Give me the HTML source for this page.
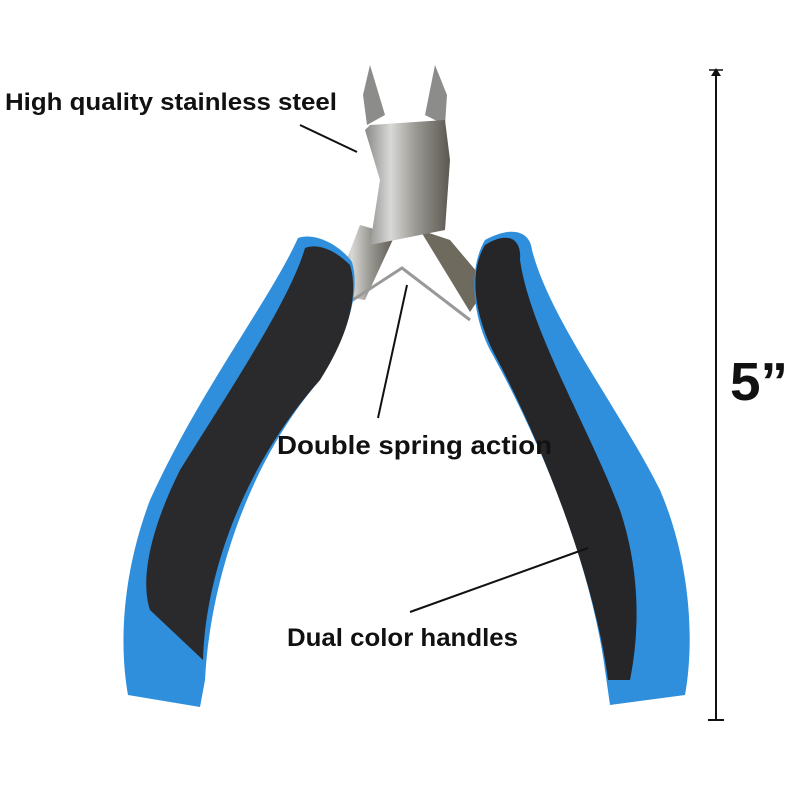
<!DOCTYPE html>
<html><head><style>
html,body{margin:0;padding:0;background:#fff;width:800px;height:800px;overflow:hidden}
svg{display:block}
text{font-family:"Liberation Sans",sans-serif;font-weight:bold;fill:#111}
</style></head><body>
<svg width="800" height="800" viewBox="0 0 800 800">
<defs>
<linearGradient id="m" x1="0" x2="1" y1="0" y2="0">
<stop offset="0" stop-color="#8a8a88"/><stop offset="0.3" stop-color="#d8d8d6"/><stop offset="0.6" stop-color="#9a9892"/><stop offset="1" stop-color="#5a5850"/>
</linearGradient>
</defs>
<!-- metal arms -->
<path d="M360 225 L395 235 L365 300 L333 295 Z" fill="url(#m)"/>
<path d="M420 230 L450 240 L488 285 L470 312 Z" fill="#6e6a5e"/>
<!-- springs -->
<path d="M345 305 L402 268 L470 320" fill="none" stroke="#999" stroke-width="3"/>
<!-- head -->
<path d="M370 65 L385 115 L367 125 L363 95 Z" fill="#8c8c8a"/>
<path d="M435 65 L447 95 L445 125 L425 115 Z" fill="#8c8c8a"/>
<path d="M370 125 L365 130 L380 180 L370 245 L395 240 L445 230 L450 160 L445 120 Z" fill="url(#m)"/>
<!-- left handle -->
<path d="M298 238 C270 300 200 390 150 500 C120 580 120 650 128 695 L200 707 L205 680 C210 580 250 460 320 380 C350 330 360 290 352 262 C340 245 315 232 298 238 Z" fill="#2f8fdc"/>
<path d="M305 248 C290 300 230 390 180 470 C150 530 140 580 150 610 L203 660 C205 580 240 470 320 380 C352 330 358 290 350 265 C335 250 318 243 305 248 Z" fill="#2a2a2c"/>
<!-- right handle -->
<path d="M485 240 C510 226 530 230 532 250 C550 320 620 410 660 490 C690 560 695 640 685 695 L610 705 L605 670 C590 560 540 440 490 350 C470 310 470 265 485 240 Z" fill="#2f8fdc"/>
<path d="M485 245 C505 232 522 236 520 260 C530 330 590 430 620 510 C640 570 640 630 630 680 L608 680 C595 580 545 450 495 355 C472 310 470 270 485 245 Z" fill="#262628"/>
<!-- leaders -->
<line x1="300" y1="125" x2="357" y2="152" stroke="#111" stroke-width="2"/>
<line x1="378" y1="418" x2="407" y2="285" stroke="#111" stroke-width="2"/>
<line x1="410" y1="612" x2="588" y2="548" stroke="#111" stroke-width="2"/>
<!-- dimension -->
<line x1="716" y1="70" x2="716" y2="720" stroke="#111" stroke-width="2"/>
<path d="M711 76 L716 68 L721 76 Z" fill="#111"/>
<line x1="709" y1="70" x2="723" y2="70" stroke="#111" stroke-width="1.5"/>
<line x1="708" y1="720" x2="724" y2="720" stroke="#111" stroke-width="2"/>
<text x="730" y="400" font-size="54" textLength="58" lengthAdjust="spacingAndGlyphs">5”</text>
<!-- labels -->
<text x="5" y="110" font-size="24" textLength="332" lengthAdjust="spacingAndGlyphs">High quality stainless steel</text>
<text x="277" y="454" font-size="26" textLength="275" lengthAdjust="spacingAndGlyphs">Double spring action</text>
<text x="287" y="646" font-size="25" textLength="231" lengthAdjust="spacingAndGlyphs">Dual color handles</text>
</svg>
</body></html>
